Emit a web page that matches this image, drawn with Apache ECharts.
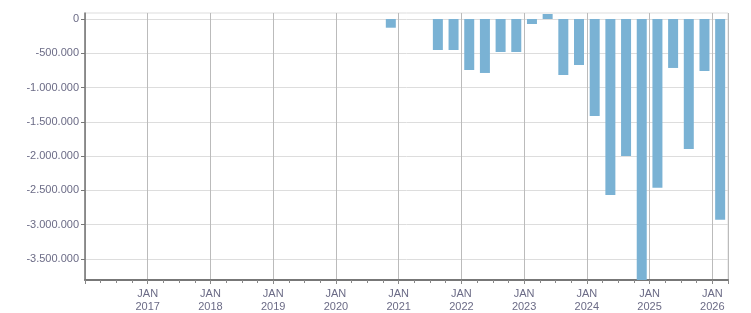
<!DOCTYPE html>
<html>
<head>
<meta charset="utf-8">
<script src="https://cdn.jsdelivr.net/npm/echarts@6/dist/echarts.min.js"></script>
<style>
  html, body { margin: 0; padding: 0; background: #fff; }
  #chart { width: 751px; height: 313px; }
</style>
</head>
<body>
<div id="chart"></div>
<script>
// quarterly values
const quarters = ['2020-Q4', '2021-Q3', '2021-Q4', '2022-Q1', '2022-Q2', '2022-Q3', '2022-Q4',
  '2023-Q1', '2023-Q2', '2023-Q3', '2023-Q4', '2024-Q1', '2024-Q2', '2024-Q3', '2024-Q4',
  '2025-Q1', '2025-Q2', '2025-Q3', '2025-Q4', '2026-Q1']
const values = [-127000, -452000, -452000, -744000, -787000, -481000, -481000,
  -73000, 73000, -817000, -671000, -1415000, -2567000, -1998000, -3950000,
  -2460000, -714000, -1896000, -758000, -2927000]
const yTicks = [0, -500000, -1000000, -1500000, -2000000, -2500000, -3000000, -3500000]

// place each quarter at its middle on a year scale
const points = quarters.map((q, i) => {
  const y = +q.slice(0, 4)
  const n = +q.slice(6)
  return [y + (n - 0.5) / 4, values[i]]
})

const fmt = v => {
  const s = String(Math.abs(v)).replace(/\B(?=(\d{3})+(?!\d))/g, '.')
  return (v < 0 ? '-' : '') + s
}

const labelColor = '#6b6b86'
const font = 'Liberation Sans'

const myChart = echarts.init(document.getElementById('chart'))
myChart.setOption({
  animation: false,
  grid: {
    left: 85, right: 23, top: 13, bottom: 33,
    show: true, borderColor: '#dddddd', borderWidth: 1
  },
  xAxis: {
    type: 'value',
    min: 2016,
    max: 2026.25,
    interval: 1,
    axisLine: { onZero: false, lineStyle: { color: '#777', width: 2 } },
    axisTick: { show: true, length: 4, lineStyle: { color: '#888' } },
    minorTick: { show: true, splitNumber: 4, length: 3, lineStyle: { color: '#888' } },
    splitLine: { show: true, lineStyle: { color: '#bbbbbb', width: 1 } },
    axisLabel: {
      showMinLabel: false,
      showMaxLabel: false,
      color: labelColor,
      fontFamily: font,
      fontSize: 11,
      lineHeight: 13,
      margin: 7,
      formatter: v => 'JAN\n' + v
    }
  },
  yAxis: {
    type: 'value',
    min: -3806000,
    max: 87500,
    axisLine: { show: true, lineStyle: { color: '#777', width: 1.5 } },
    axisTick: { show: true, length: 4, lineStyle: { color: '#777' }, customValues: yTicks },
    splitLine: { show: true, lineStyle: { color: '#dddddd', width: 1 } },
    axisLabel: {
      color: labelColor,
      fontFamily: font,
      fontSize: 11,
      margin: 6,
      customValues: yTicks,
      formatter: fmt
    }
  },
  series: [{
    type: 'bar',
    data: points,
    barWidth: 10,
    clip: true,
    itemStyle: { color: '#7ab2d4' }
  }]
})
</script>
</body>
</html>
